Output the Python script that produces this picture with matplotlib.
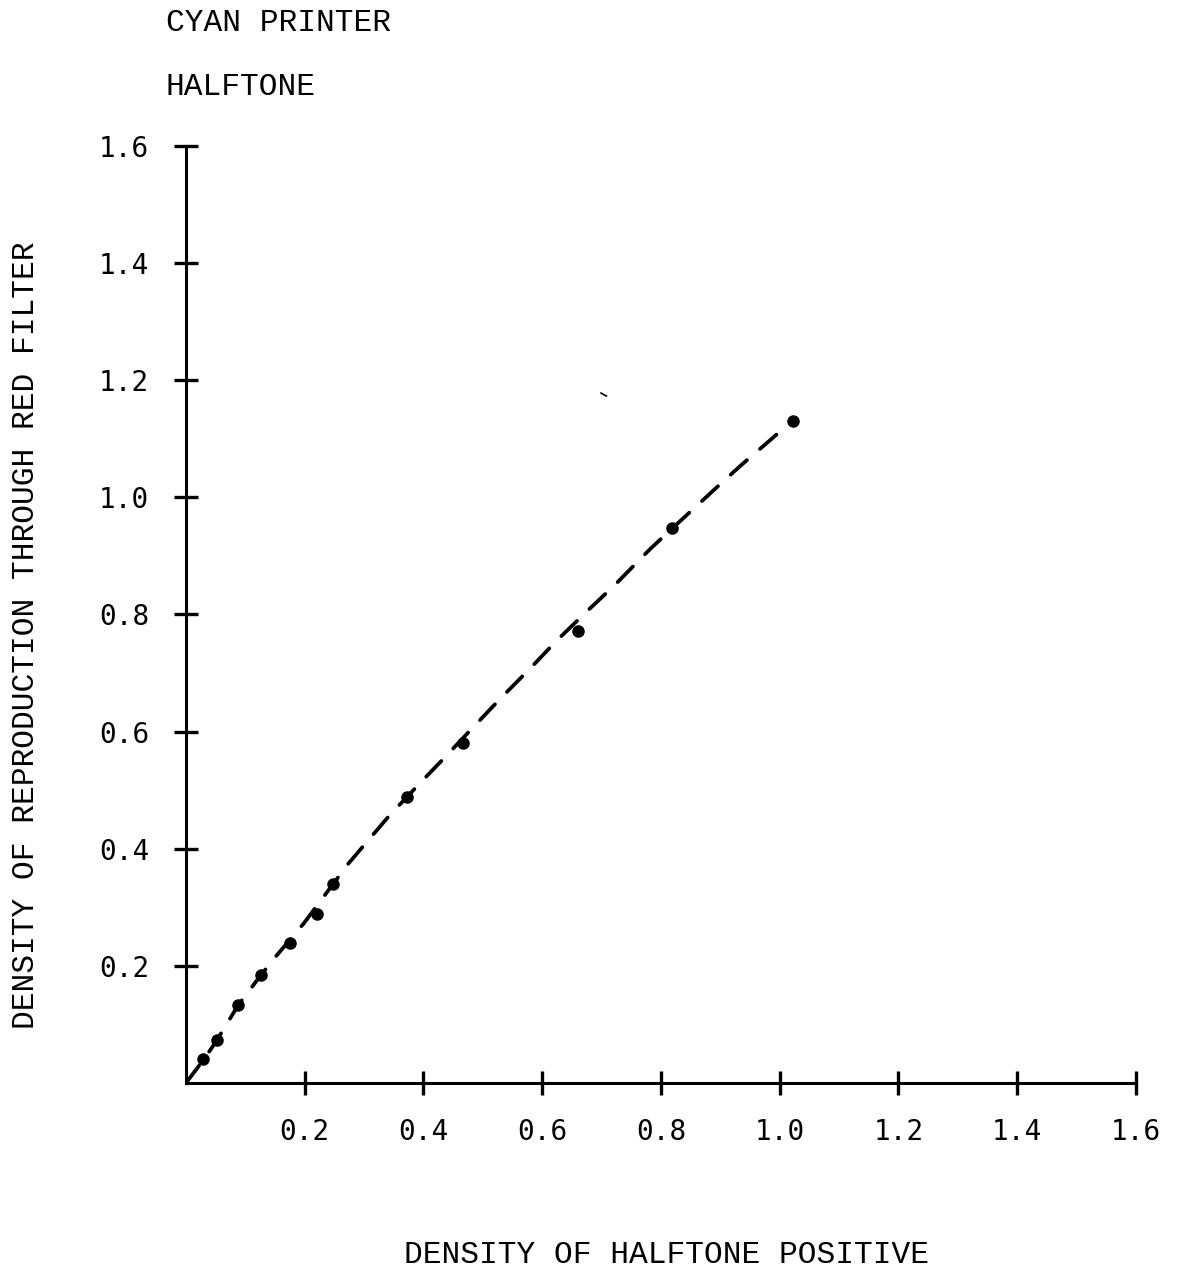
import matplotlib
matplotlib.use("Agg")
import matplotlib.pyplot as plt

# measured points (density of halftone positive vs density of reproduction)
pos_x = [0.029, 0.052, 0.088, 0.126, 0.175, 0.220, 0.248, 0.372, 0.466, 0.660, 0.819, 1.022]
rep_y = [0.041, 0.073, 0.133, 0.184, 0.239, 0.289, 0.340, 0.489, 0.580, 0.771, 0.947, 1.130]

# dashed curve
curve_x = [0.0, 0.032, 0.052, 0.088, 0.126, 0.153, 0.198, 0.248, 0.273, 0.342, 0.397,
           0.435, 0.488, 0.532, 0.578, 0.623, 0.678, 0.721, 0.780, 0.819, 0.849,
           0.895, 0.934, 0.982, 1.000]
curve_y = [0.0, 0.043, 0.073, 0.133, 0.184, 0.218, 0.272, 0.340, 0.374, 0.456, 0.515,
           0.555, 0.612, 0.659, 0.706, 0.754, 0.808, 0.849, 0.910, 0.947, 0.975,
           1.018, 1.054, 1.096, 1.112]

# stray mark on the original scan
stray_x = [0.699, 0.708]
stray_y = [1.178, 1.173]

ticks = [0.2, 0.4, 0.6, 0.8, 1.0, 1.2, 1.4, 1.6]
tick_labels = ["0.2", "0.4", "0.6", "0.8", "1.0", "1.2", "1.4", "1.6"]

mono = "Liberation Mono"
tick_font = "DejaVu Sans Mono"

fig = plt.figure(figsize=(11.87, 12.69), dpi=100)
ax = fig.add_axes([0.1567, 0.1466, 0.8003, 0.7384])

ax.plot(curve_x, curve_y, color="black", lw=2.7, linestyle=(0, (5.8, 4.6)),
        dash_capstyle="round")
ax.plot(pos_x, rep_y, "o", color="black", markersize=8)
ax.plot(stray_x, stray_y, color="black", lw=1.2)

ax.set_xlim(0, 1.6)
ax.set_ylim(0, 1.6)

for side in ["top", "right"]:
    ax.spines[side].set_visible(False)
for side in ["left", "bottom"]:
    ax.spines[side].set_linewidth(2.2)

ax.set_xticks(ticks)
ax.set_xticklabels(tick_labels, fontfamily=tick_font, fontsize=20)
ax.set_yticks(ticks)
ax.set_yticklabels(tick_labels, fontfamily=tick_font, fontsize=20,
                   va="center_baseline")
ax.tick_params(axis="x", direction="inout", length=17, width=2.4, pad=17)
ax.tick_params(axis="y", direction="inout", length=17, width=2.4, pad=18)

fig.text(666 / 1187, 1 - 1263 / 1269, "DENSITY OF HALFTONE POSITIVE",
         fontfamily=mono, fontsize=22.5, ha="center", va="baseline")
fig.text(26 / 1187, 1 - 635 / 1269, "DENSITY OF REPRODUCTION THROUGH RED FILTER",
         fontfamily=mono, fontsize=22.5, ha="center", va="center", rotation=90)

fig.text(166 / 1187, 1 - 31 / 1269, "CYAN PRINTER", fontfamily=mono,
         fontsize=22.5, ha="left", va="baseline")
fig.text(166 / 1187, 1 - 95 / 1269, "HALFTONE", fontfamily=mono,
         fontsize=22.5, ha="left", va="baseline")

fig.savefig("out.png", dpi=100)
